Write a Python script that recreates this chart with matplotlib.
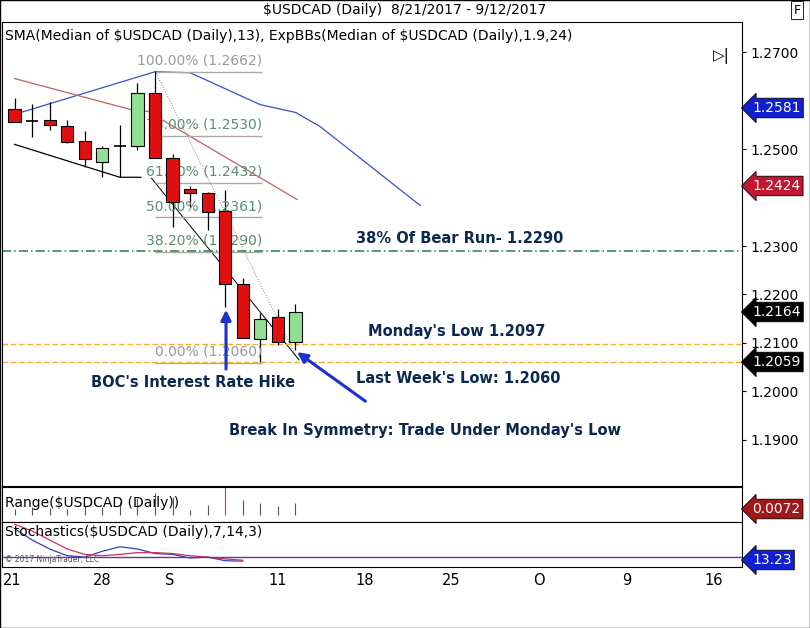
import matplotlib
matplotlib.use("Agg")
import matplotlib.pyplot as plt
import numpy as np

W, H = 810, 628
opens  = [1.2583,1.2559,1.2560,1.2548,1.2517,1.2474,1.2507,1.2507,1.2616,1.2482,1.2418,1.2410,1.2372,1.2221,1.2108,1.2153,1.2102]
closes = [1.2556,1.2559,1.2550,1.2515,1.2480,1.2502,1.2507,1.2616,1.2482,1.2391,1.2410,1.2370,1.2221,1.2110,1.2149,1.2102,1.2164]
highs  = [1.2606,1.2593,1.2598,1.2560,1.2538,1.2507,1.2550,1.2637,1.2662,1.2490,1.2424,1.2412,1.2416,1.2234,1.2162,1.2170,1.2180]
lows   = [1.2556,1.2525,1.2540,1.2513,1.2463,1.2443,1.2443,1.2498,1.2482,1.2339,1.2381,1.2333,1.2174,1.2110,1.2060,1.2095,1.2085]
blue_x = [0,8,10,14.0,16,17.4,23.1]
blue_y = [1.2572,1.2660,1.2658,1.2592,1.2576,1.2547,1.2384]
red_x = [0,6.6,7.6,16.1]
red_y = [1.2646,1.2582,1.2578,1.2396]
blk_x = [0,6,7.2]
blk_y = [1.2510,1.2442,1.2442]
fib_levels = [1.2662,1.2530,1.2432,1.2361,1.2290,1.2060]
fib_names = ["100.00%","78.00%","61.80%","50.00%","38.20%","0.00%"]
tick_labels = ["21","28","S","11","18","25","O","9","16"]
tick_px = [11,101,169,277,364,451,539,627,714]
stoch_k = [85,60,40,25,22,35,45,40,30,28,20,22,14,13]
stoch_d = [95,80,60,40,28,25,28,32,32,30,25,22,18,15]

def ix(px): return (px-13)/17.6
def fx(px): return px/W
def fy(py): return 1-py/H

fig = plt.figure(figsize=(W/100,H/100), dpi=100)
fig.patch.set_facecolor("white")
xl = (ix(0), ix(742))
ax = fig.add_axes([0.002, fy(486), fx(740), fy(22)-fy(486)])
ax.set_xlim(*xl); ax.set_ylim(1.23-240/4840, 1.23+224/4840)
ax.set_xticks([]); ax.yaxis.tick_right()
yt = [1.19,1.20,1.21,1.22,1.23,1.25,1.27]
ax.set_yticks(yt); ax.set_yticklabels([f"{v:.4f}" for v in yt], fontsize=10)
ax.tick_params(axis='y', length=3)

ax.plot(blue_x, blue_y, color="#3a4fc8", lw=0.9)
ax.plot(red_x, red_y, color="#c06060", lw=0.9)
ax.plot(blk_x, blk_y, color="black", lw=0.9)
ax.plot([8,16.2],[1.2662,1.2060], color="gray", lw=0.7, ls=":")
ax.plot([7.8,16.2],[1.2440,1.2065], color="black", lw=0.7)
for i,(o,c,h,l) in enumerate(zip(opens,closes,highs,lows)):
    ax.vlines(i,l,h,color="black",lw=0.9,zorder=3)
    col = "#e01010" if c<o else "#90e090"
    if abs(c-o) < 0.0003:
        ax.hlines(o,i-0.35,i+0.35,color="black",lw=1.2,zorder=4)
    else:
        ax.bar(i,c-o,bottom=o,width=0.7,color=col,edgecolor="black",lw=0.8,zorder=4)
for lev,nm in zip(fib_levels,fib_names):
    colr = "#999999" if nm in ("100.00%","0.00%") else "#5a8f70"
    ax.hlines(lev-0.0002, 8, 14.1, color="#aaaaaa", lw=1)
    ax.text(14.1, lev+0.0007, f"{nm} ({lev:.4f})", ha="right", va="bottom", color=colr, fontsize=10)
ax.axhline(1.2290, color="#2a7a50", lw=1.1, ls=(0,(6,2,1,2)))
ax.axhline(1.2097, color="#f0b030", lw=1, ls=(0,(4,2)))
ax.axhline(1.2060, color="#f0b030", lw=1, ls=(0,(4,2)))
b = dict(fontsize=10.5, fontweight="bold", color="#0a2850")
ax.text(ix(355), 1.2300, "38% Of Bear Run- 1.2290", ha="left", va="bottom", **b)
ax.text(ix(367), 1.2107, "Monday's Low 1.2097", ha="left", va="bottom", **b)
ax.text(ix(355), 1.2026, "Last Week's Low: 1.2060", ha="left", va="center", **b)
ax.text(ix(90), 1.2018, "BOC's Interest Rate Hike", ha="left", va="center", **b)
ax.text(ix(228), 1.1918, "Break In Symmetry: Trade Under Monday's Low", ha="left", va="center", **b)
ax.annotate("", xy=(ix(225),1.2174), xytext=(ix(225),1.2040),
            arrowprops=dict(arrowstyle="-|>,head_width=0.3,head_length=0.6", color="#1a30d0", lw=2.2))
ax.annotate("", xy=(ix(294),1.2084), xytext=(ix(367),1.1976),
            arrowprops=dict(arrowstyle="-|>,head_width=0.3,head_length=0.6", color="#1a30d0", lw=2.2))
ax.text(0.005, 0.985, r"SMA(Median of \$USDCAD (Daily),13), ExpBBs(Median of \$USDCAD (Daily),1.9,24)",
        transform=ax.transAxes, fontsize=10, va="top")
ax.text(ix(722), 1.2692, "▷|", fontsize=11, ha="center", va="center")

# range panel
ax2 = fig.add_axes([0.002, fy(522), fx(740), fy(487)-fy(522)])
ax2.set_xlim(*xl); ax2.set_ylim(0,0.01); ax2.set_xticks([]); ax2.set_yticks([])
rng = [h-l for h,l in zip(highs,lows)]
for i,r in enumerate(rng):
    ax2.vlines(i,0.002,0.002+r*0.35,color="#e03030" if i==12 else "#555555",lw=0.8)
ax2.text(0.005,0.55,r"Range(\$USDCAD (Daily))",transform=ax2.transAxes,fontsize=10,va="center")

# stochastic panel
ax3 = fig.add_axes([0.002, fy(567), fx(740), fy(522)-fy(567)])
ax3.set_xlim(*xl); ax3.set_ylim(0,100); ax3.set_yticks([])
ax3.plot(range(len(stoch_k)), stoch_k, color="#3040c0", lw=0.9)
ax3.plot(range(len(stoch_d)), stoch_d, color="#d03060", lw=0.9)
ax3.axhline(22, color="#7030a0", lw=1)
ax3.text(0.005,0.78,r"Stochastics(\$USDCAD (Daily),7,14,3)",transform=ax3.transAxes,fontsize=10,va="center")
ax3.text(0.005,0.1,"© 2017 NinjaTrader, LLC",transform=ax3.transAxes,fontsize=5.5,color="#555555")
ax3.set_xticks([ix(p) for p in tick_px]); ax3.set_xticklabels(tick_labels, fontsize=10.5)
ax3.tick_params(axis='x', length=0, pad=4)

for a in (ax,ax2,ax3):
    for s in a.spines.values(): s.set_linewidth(0.8)

def tag(py, txt, fc, tc="white"):
    fig.text(fx(752), fy(py), txt, fontsize=10, color=tc, va="center", ha="left",
             bbox=dict(boxstyle="larrow,pad=0.2", fc=fc, ec="black", lw=0.6))
tag(108,"1.2581","#1020d0"); tag(186,"1.2424","#c01830"); tag(312,"1.2164","black")
tag(362,"1.2059","black"); tag(509,"0.0072","#a01818"); tag(560,"13.23","#1020d0")
fig.text(0.5, fy(10), r"\$USDCAD (Daily)  8/21/2017 - 9/12/2017", ha="center", va="center", fontsize=10)
fig.text(fx(797), fy(10), "F", ha="center", va="center", fontsize=9,
         bbox=dict(boxstyle="square,pad=0.2", fc="white", ec="black", lw=0.6))
fig.add_artist(plt.Rectangle((0,0),1,1,transform=fig.transFigure,fill=False,ec="black",lw=1))
fig.savefig("out.png", dpi=100)
